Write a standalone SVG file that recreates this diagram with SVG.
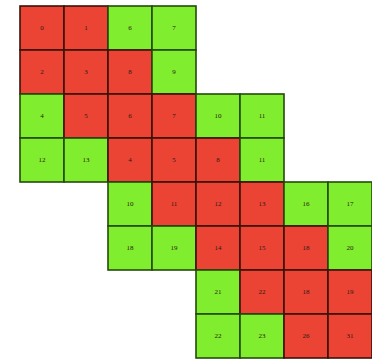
<svg xmlns="http://www.w3.org/2000/svg" width="372" height="361" viewBox="0 0 372 361">
<style>
.r{fill:#ec4434;stroke:#3a120a;stroke-width:1.6}
.g{fill:#80ee2e;stroke:#234a0a;stroke-width:1.6}
text{font-family:"Liberation Serif",serif;font-size:7px;fill:#2a1a10;text-anchor:middle;dominant-baseline:central}
</style>
<rect width="372" height="361" fill="#ffffff"/>
<g id="grid">
<g id="c0-0"><rect class="r" x="20" y="6" width="44" height="44"/><text x="42" y="28">0</text></g>
<g id="c0-1"><rect class="r" x="64" y="6" width="44" height="44"/><text x="86" y="28">1</text></g>
<g id="c0-2"><rect class="g" x="108" y="6" width="44" height="44"/><text x="130" y="28">6</text></g>
<g id="c0-3"><rect class="g" x="152" y="6" width="44" height="44"/><text x="174" y="28">7</text></g>
<g id="c1-0"><rect class="r" x="20" y="50" width="44" height="44"/><text x="42" y="72">2</text></g>
<g id="c1-1"><rect class="r" x="64" y="50" width="44" height="44"/><text x="86" y="72">3</text></g>
<g id="c1-2"><rect class="r" x="108" y="50" width="44" height="44"/><text x="130" y="72">8</text></g>
<g id="c1-3"><rect class="g" x="152" y="50" width="44" height="44"/><text x="174" y="72">9</text></g>
<g id="c2-0"><rect class="g" x="20" y="94" width="44" height="44"/><text x="42" y="116">4</text></g>
<g id="c2-1"><rect class="r" x="64" y="94" width="44" height="44"/><text x="86" y="116">5</text></g>
<g id="c2-2"><rect class="r" x="108" y="94" width="44" height="44"/><text x="130" y="116">6</text></g>
<g id="c2-3"><rect class="r" x="152" y="94" width="44" height="44"/><text x="174" y="116">7</text></g>
<g id="c2-4"><rect class="g" x="196" y="94" width="44" height="44"/><text x="218" y="116">10</text></g>
<g id="c2-5"><rect class="g" x="240" y="94" width="44" height="44"/><text x="262" y="116">11</text></g>
<g id="c3-0"><rect class="g" x="20" y="138" width="44" height="44"/><text x="42" y="160">12</text></g>
<g id="c3-1"><rect class="g" x="64" y="138" width="44" height="44"/><text x="86" y="160">13</text></g>
<g id="c3-2"><rect class="r" x="108" y="138" width="44" height="44"/><text x="130" y="160">4</text></g>
<g id="c3-3"><rect class="r" x="152" y="138" width="44" height="44"/><text x="174" y="160">5</text></g>
<g id="c3-4"><rect class="r" x="196" y="138" width="44" height="44"/><text x="218" y="160">8</text></g>
<g id="c3-5"><rect class="g" x="240" y="138" width="44" height="44"/><text x="262" y="160">11</text></g>
<g id="c4-2"><rect class="g" x="108" y="182" width="44" height="44"/><text x="130" y="204">10</text></g>
<g id="c4-3"><rect class="r" x="152" y="182" width="44" height="44"/><text x="174" y="204">11</text></g>
<g id="c4-4"><rect class="r" x="196" y="182" width="44" height="44"/><text x="218" y="204">12</text></g>
<g id="c4-5"><rect class="r" x="240" y="182" width="44" height="44"/><text x="262" y="204">13</text></g>
<g id="c4-6"><rect class="g" x="284" y="182" width="44" height="44"/><text x="306" y="204">16</text></g>
<g id="c4-7"><rect class="g" x="328" y="182" width="44" height="44"/><text x="350" y="204">17</text></g>
<g id="c5-2"><rect class="g" x="108" y="226" width="44" height="44"/><text x="130" y="248">18</text></g>
<g id="c5-3"><rect class="g" x="152" y="226" width="44" height="44"/><text x="174" y="248">19</text></g>
<g id="c5-4"><rect class="r" x="196" y="226" width="44" height="44"/><text x="218" y="248">14</text></g>
<g id="c5-5"><rect class="r" x="240" y="226" width="44" height="44"/><text x="262" y="248">15</text></g>
<g id="c5-6"><rect class="r" x="284" y="226" width="44" height="44"/><text x="306" y="248">18</text></g>
<g id="c5-7"><rect class="g" x="328" y="226" width="44" height="44"/><text x="350" y="248">20</text></g>
<g id="c6-4"><rect class="g" x="196" y="270" width="44" height="44"/><text x="218" y="292">21</text></g>
<g id="c6-5"><rect class="r" x="240" y="270" width="44" height="44"/><text x="262" y="292">22</text></g>
<g id="c6-6"><rect class="r" x="284" y="270" width="44" height="44"/><text x="306" y="292">18</text></g>
<g id="c6-7"><rect class="r" x="328" y="270" width="44" height="44"/><text x="350" y="292">19</text></g>
<g id="c7-4"><rect class="g" x="196" y="314" width="44" height="44"/><text x="218" y="336">22</text></g>
<g id="c7-5"><rect class="g" x="240" y="314" width="44" height="44"/><text x="262" y="336">23</text></g>
<g id="c7-6"><rect class="r" x="284" y="314" width="44" height="44"/><text x="306" y="336">26</text></g>
<g id="c7-7"><rect class="r" x="328" y="314" width="44" height="44"/><text x="350" y="336">31</text></g>
</g>
<g id="connectors"/>
</svg>
